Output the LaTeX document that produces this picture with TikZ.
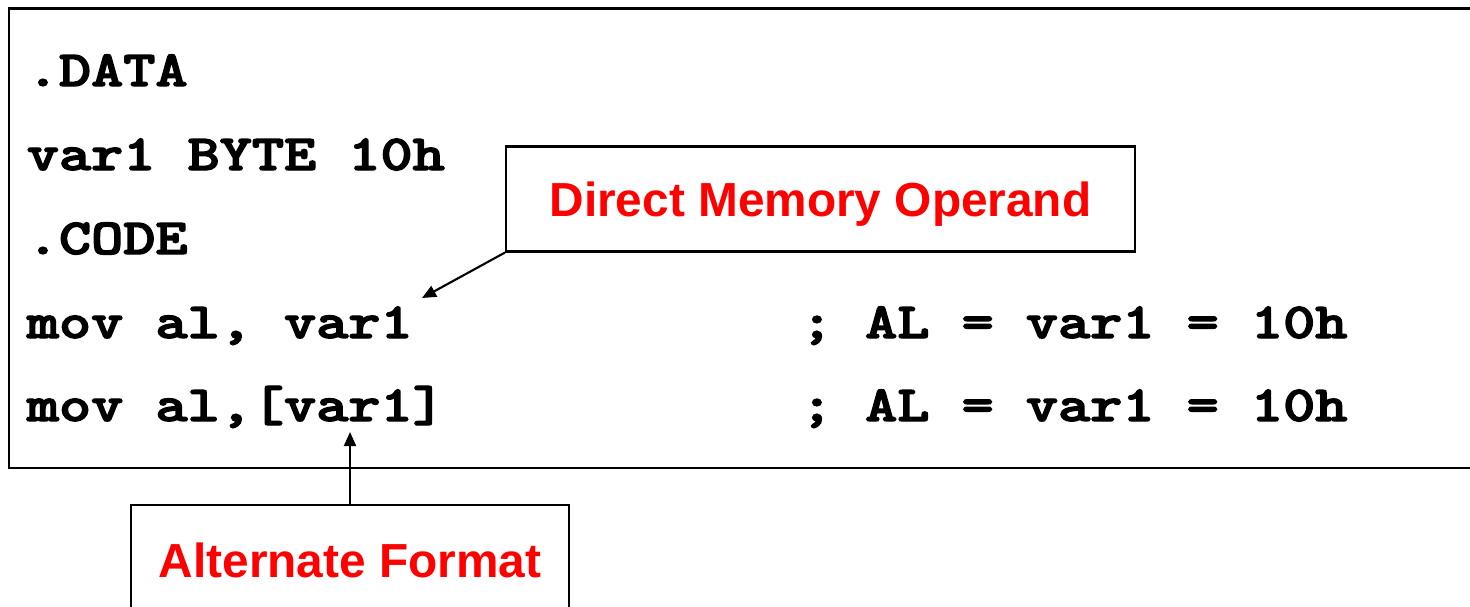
\documentclass[tikz,border=0pt]{standalone}
\usepackage{fontspec}
\setmainfont{Liberation Sans}
\usetikzlibrary{arrows.meta}
\definecolor{labelred}{RGB}{255,0,0}
% heavier strokes for the listing text (fill + outline rendering)
\newcommand\codeheavy[1]{\special{pdf:literal direct 2 Tr 0.35 w}#1\special{pdf:literal direct 0 Tr}}
\tikzset{
  frame/.style={draw=black, line width=0.6pt},
  codeline/.style={anchor=base west, inner sep=0pt, xscale=1.21, transform shape,
    font=\ttfamily\bfseries\fontsize{14.4pt}{17pt}\selectfont},
  callout/.style={draw=black, line width=0.6pt, fill=white, inner sep=0pt,
    text height=0.345cm, text depth=0pt,
    font=\bfseries\fontsize{13.6pt}{16pt}\selectfont, text=labelred},
  pointer/.style={draw=black, line width=0.6pt, -{Triangle[length=0.14cm, width=0.12cm]}}
}
\begin{document}
\begin{tikzpicture}[x=1cm, y=1cm]
  \useasboundingbox (0,0) rectangle (14.70,-6.06);
  \clip (0,0) rectangle (14.70,-6.06);
  % code panel (open to the right)
  \draw[frame] (0.09,-0.085) rectangle (15.2,-4.68);
  % source lines
  \node[codeline] (l1) at (0.26,-0.86) {\codeheavy{.DATA}};
  \node[codeline] (l2) at (0.26,-1.70) {\codeheavy{var1 BYTE 10h}};
  \node[codeline] (l3) at (0.26,-2.54) {\codeheavy{.CODE}};
  \node[codeline] (l4) at (0.26,-3.38) {\codeheavy{mov al, var1}};
  \node[codeline] (l5) at (0.26,-4.21) {\codeheavy{mov al,[var1]}};
  \node[codeline] (c4) at (8.00,-3.38) {\codeheavy{; AL = var1 = 10h}};
  \node[codeline] (c5) at (8.00,-4.21) {\codeheavy{; AL = var1 = 10h}};
  % callout boxes
  \node[callout, minimum width=6.29cm, minimum height=1.05cm] (direct) at (8.205,-1.99) {Direct Memory Operand};
  \node[callout, minimum width=4.38cm, minimum height=1.10cm] (alt) at (3.50,-5.60) {Alternate Format};
  % pointer targets
  \coordinate (op1) at (4.22,-2.98);
  \coordinate (op2) at (3.50,-4.32);
  \draw[pointer] (direct.south west) -- (op1);
  \draw[pointer] (alt.north) -- (op2);
\end{tikzpicture}
\end{document}
